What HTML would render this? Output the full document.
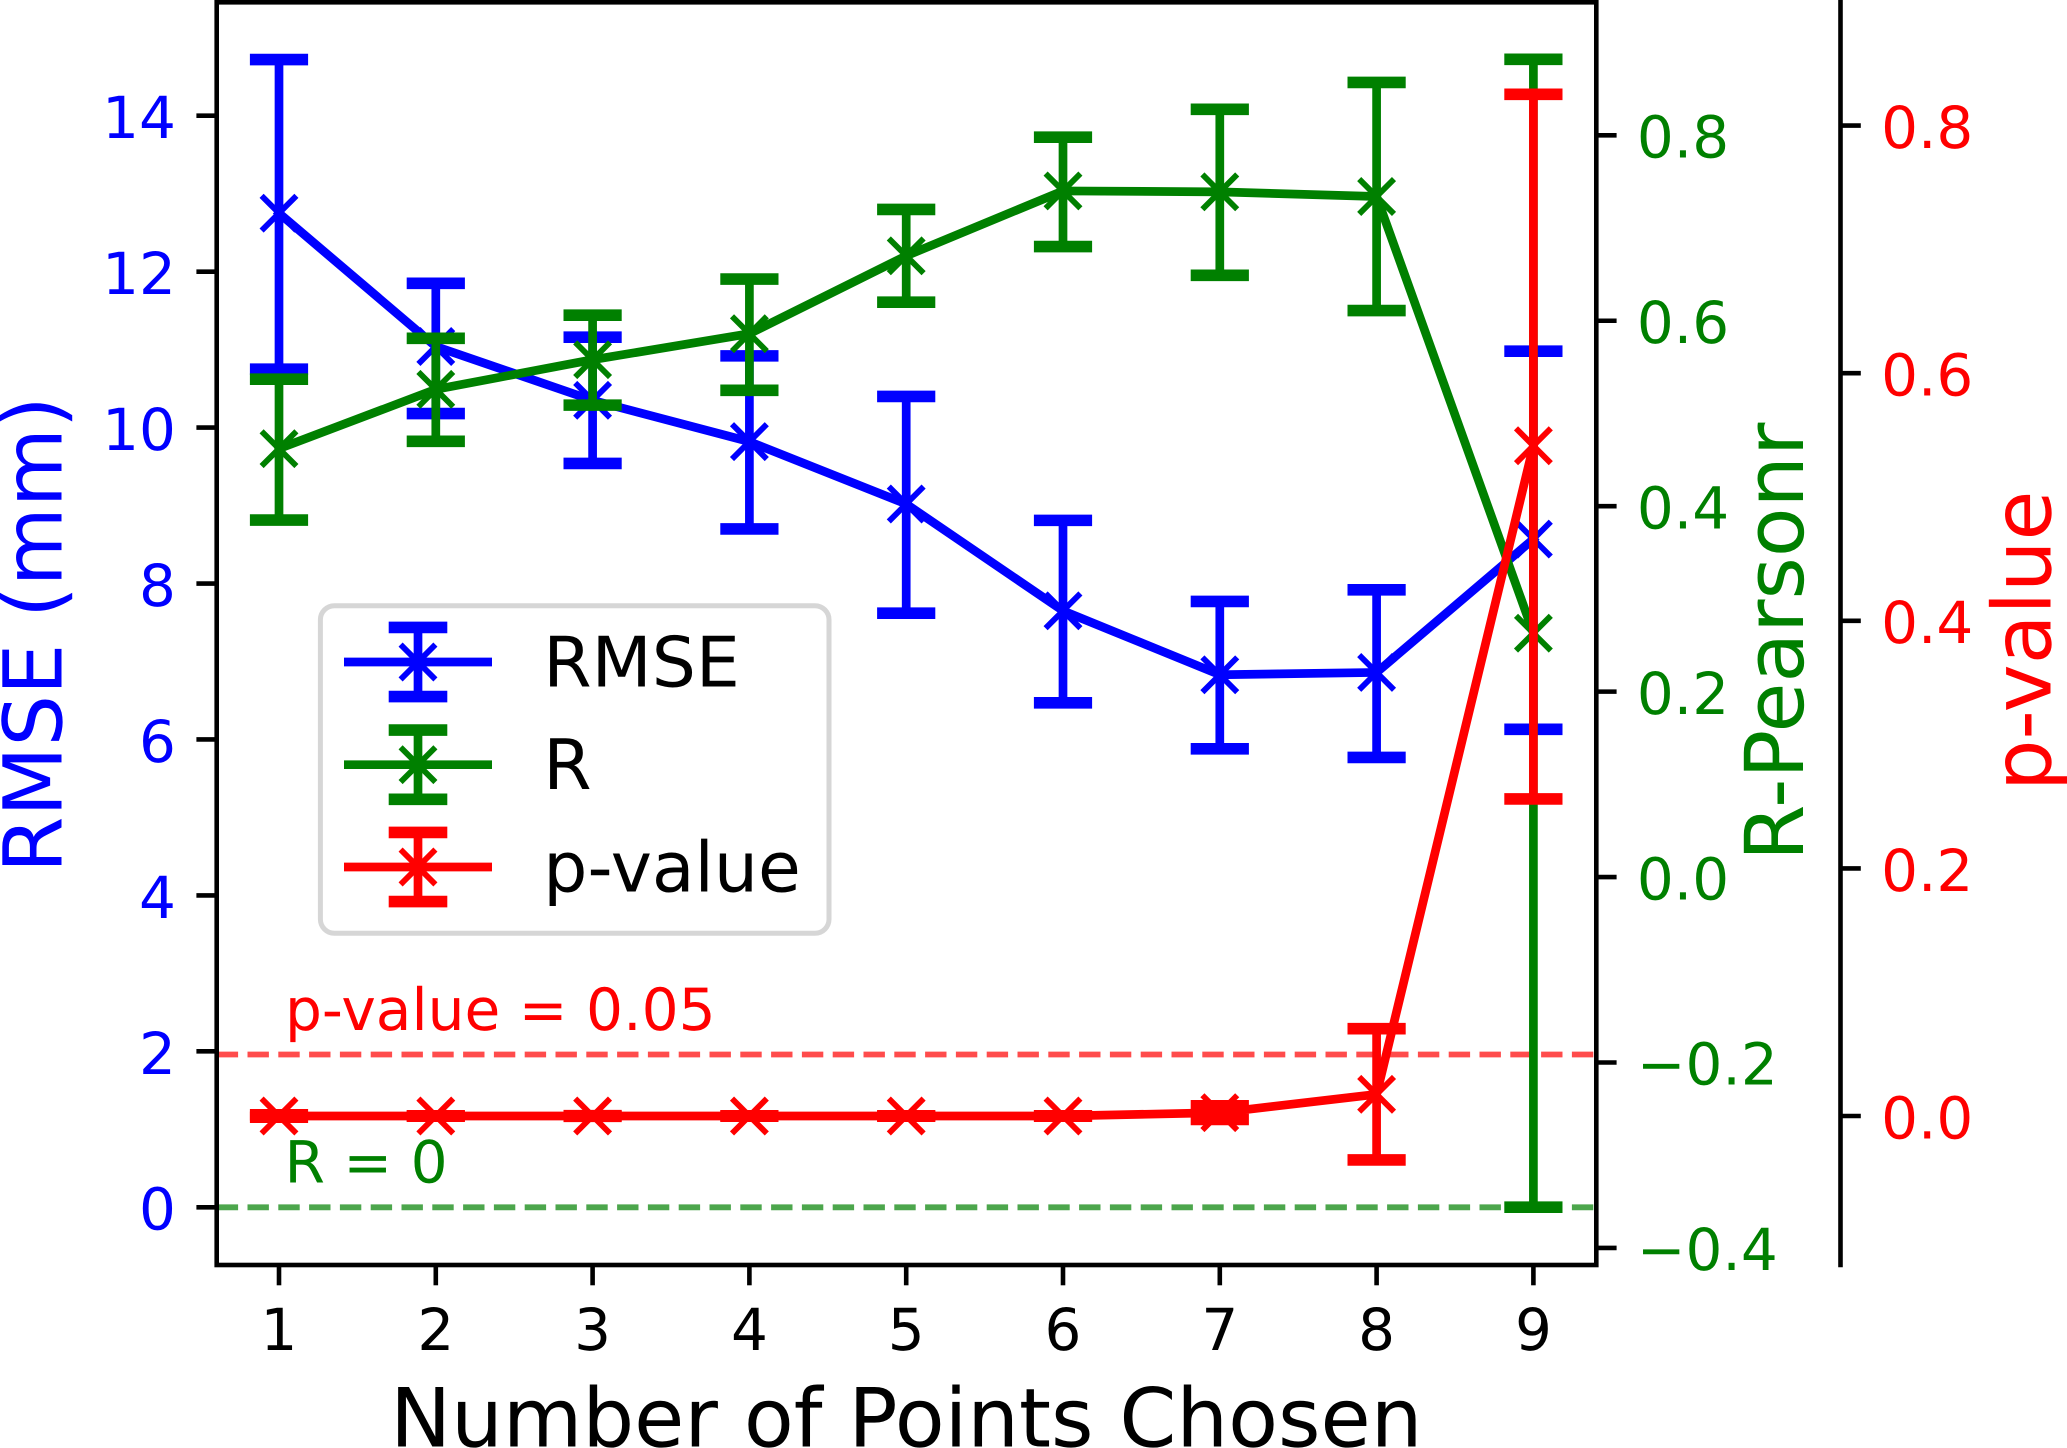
<!DOCTYPE html>
<html lang="en">
<head>
<meta charset="utf-8">
<title>RMSE, R and p-value vs Number of Points Chosen</title>
<style>
  html, body { margin: 0; padding: 0; background: #ffffff; }
  svg { display: block; }
  text { font-family: "DejaVu Sans", "Liberation Sans", sans-serif; text-rendering: geometricPrecision; }
</style>
</head>
<body>
<svg id="chart" xmlns="http://www.w3.org/2000/svg" width="2067" height="1448" viewBox="0 0 2067 1448">
  <rect x="0" y="0" width="2067" height="1448" fill="#ffffff"/>
  <g id="reference-layer"></g>
  <g id="series-layer"></g>
  <g id="axes-layer"></g>

  <text x="285" y="1030" font-size="58.2" fill="#ff0000">p-value = 0.05</text>
  <text x="284.5" y="1182.7" font-size="58.2" fill="#008000">R = 0</text>

  <text x="906.3" y="1446.5" font-size="81.6" fill="#000000" text-anchor="middle">Number of Points Chosen</text>
  <text transform="translate(61.7 873) rotate(-90)" font-size="81.2" fill="#0000ff">RMSE (mm)</text>
  <text transform="translate(1803 861) rotate(-90)" font-size="81.2" fill="#008000">R-Pearsonr</text>
  <text transform="translate(2050.5 791) rotate(-90)" font-size="81.2" fill="#ff0000">p-value</text>

  <g>
    <rect x="320.4" y="605.7" width="508.6" height="327.6" rx="14" ry="14" fill="#ffffff" stroke="#d6d6d6" stroke-width="5"/>
    <g stroke="#0000ff" fill="none">
      <path d="M344 662H492" stroke-width="8.7"/>
      <path d="M400.6 644.6L435.4 679.4M400.6 679.4L435.4 644.6" stroke-width="5.8"/>
      <path d="M418 627.4V696.6" stroke-width="8.7"/>
      <path d="M388.7 627.4H447.3M388.7 696.6H447.3" stroke-width="11.6"/>
      <text x="543.3" y="686.7" font-size="69.6" fill="#000000" stroke="none">RMSE</text>
    </g>
    <g stroke="#008000" fill="none">
      <path d="M344 764.7H492" stroke-width="8.7"/>
      <path d="M400.6 747.3L435.4 782.1M400.6 782.1L435.4 747.3" stroke-width="5.8"/>
      <path d="M418 730.1V799.3" stroke-width="8.7"/>
      <path d="M388.7 730.1H447.3M388.7 799.3H447.3" stroke-width="11.6"/>
      <text x="543.3" y="789" font-size="69.6" fill="#000000" stroke="none">R</text>
    </g>
    <g stroke="#ff0000" fill="none">
      <path d="M344 867H492" stroke-width="8.7"/>
      <path d="M400.6 849.6L435.4 884.4M400.6 884.4L435.4 849.6" stroke-width="5.8"/>
      <path d="M418 832.4V901.6" stroke-width="8.7"/>
      <path d="M388.7 832.4H447.3M388.7 901.6H447.3" stroke-width="11.6"/>
      <text x="543.3" y="891.7" font-size="69.6" fill="#000000" stroke="none">p-value</text>
    </g>
  </g>
</svg>

<script>
// ---- chart data ----
const pointsChosen = [1, 2, 3, 4, 5, 6, 7, 8, 9];

const rmseValues = [12.75, 11.04, 10.35, 9.82, 9.02, 7.65, 6.83, 6.86, 8.57];
const rmseLower  = [10.75, 10.18, 9.54, 8.70, 7.62, 6.47, 5.88, 5.77, 6.13];
const rmseUpper  = [14.72, 11.85, 11.16, 10.92, 10.40, 8.81, 7.77, 7.92, 10.98];

const rValues = [0.462, 0.526, 0.558, 0.586, 0.670, 0.740, 0.739, 0.734, 0.263];
const rLower  = [0.385, 0.470, 0.509, 0.525, 0.620, 0.680, 0.649, 0.611, -0.356];
const rUpper  = [0.537, 0.581, 0.606, 0.645, 0.720, 0.798, 0.828, 0.857, 0.882];

const pValues = [0.0000, 0.0000, 0.0000, 0.0000, 0.0000, 0.0000, 0.0027, 0.0175, 0.5414];
const pLower  = [-0.0010, -0.0002, -0.0003, -0.0002, -0.0002, -0.0002, -0.0028, -0.0355, 0.2561];
const pUpper  = [0.0010, 0.0002, 0.0003, 0.0002, 0.0002, 0.0002, 0.0082, 0.0705, 0.8253];

// reference lines are drawn on the RMSE axis
const pThresholdOnRmseAxis = 1.96;
const rZeroOnRmseAxis = 0;

const xTickLabels = ['1', '2', '3', '4', '5', '6', '7', '8', '9'];
const rmseTicks = [0, 2, 4, 6, 8, 10, 12, 14];
const rmseTickLabels = ['0', '2', '4', '6', '8', '10', '12', '14'];
const rTicks = [-0.4, -0.2, 0, 0.2, 0.4, 0.6, 0.8];
const rTickLabels = ['\u22120.4', '\u22120.2', '0.0', '0.2', '0.4', '0.6', '0.8'];
const pTicks = [0, 0.2, 0.4, 0.6, 0.8];
const pTickLabels = ['0.0', '0.2', '0.4', '0.6', '0.8'];

// ---- axis functions ----
function xScale(n) { return 279 + (n - 1) * 156.8; }
function yRmse(v) { return 1207.3 - 77.97 * v; }
function yR(v) { return 135.3 + (0.8 - v) * 927.2; }
function yP(v) { return 1116 - 1238 * v; }

// ---- geometry constants ----
const NS = 'http://www.w3.org/2000/svg';
const axLeft = 216.7, axRight = 1596.3, axTop = 2.3, axBottom = 1265, thirdSpineX = 1840.5;
const spineW = 4.6, tickLen = 20.3;

function make(parent, tag, attrs) {
  const el = document.createElementNS(NS, tag);
  for (const k in attrs) el.setAttribute(k, attrs[k]);
  parent.appendChild(el);
  return el;
}

function drawSeries(parent, key, color, values, lower, upper, yFn) {
  const group = make(parent, 'g', {});
  
  

  const pts = pointsChosen.map(function (n, i) {
    return xScale(n).toFixed(2) + ',' + yFn(values[i]).toFixed(2);
  }).join(' ');
  const line = make(group, 'polyline', {
    points: pts, fill: 'none', stroke: color, 'stroke-width': 8.7,
    'stroke-linejoin': 'round', 'stroke-linecap': 'square'
  });
  
  

  pointsChosen.forEach(function (n, i) {
    const x = xScale(n), y = yFn(values[i]), r = 17.4;
    const marker = make(group, 'path', {
      d: 'M' + (x - r) + ' ' + (y - r) + 'L' + (x + r) + ' ' + (y + r) +
         'M' + (x - r) + ' ' + (y + r) + 'L' + (x + r) + ' ' + (y - r),
      fill: 'none', stroke: color, 'stroke-width': 5.8
    });
    
    
  });

  pointsChosen.forEach(function (n, i) {
    const x = xScale(n), yLow = yFn(lower[i]), yHigh = yFn(upper[i]);
    const bar = make(group, 'line', {
      x1: x, x2: x, y1: yLow, y2: yHigh, stroke: color, 'stroke-width': 8.7
    });
    
    

    const capLow = make(group, 'line', {
      x1: x - 29.1, x2: x + 29.1, y1: yLow, y2: yLow, stroke: color, 'stroke-width': 11.6
    });
    
    

    const capHigh = make(group, 'line', {
      x1: x - 29.1, x2: x + 29.1, y1: yHigh, y2: yHigh, stroke: color, 'stroke-width': 11.6
    });
    
    
  });
}

function drawRefLine(parent, name, color, value) {
  const y = yRmse(value);
  const ref = make(parent, 'line', {
    x1: axLeft, x2: axRight - 2.3, y1: y, y2: y, stroke: color, 'stroke-width': 5.8,
    'stroke-opacity': 0.7, 'stroke-dasharray': '21.4 9.4'
  });
  
  
}

function drawYAxis(parent, key, color, ticks, labels, yFn, spineX, side, baselineShift) {
  ticks.forEach(function (t, i) {
    const y = yFn(t);
    const x2 = side === 'left' ? spineX - tickLen : spineX + tickLen;
    const tick = make(parent, 'line', {
      x1: spineX, x2: x2, y1: y, y2: y, stroke: '#000000', 'stroke-width': spineW
    });
    
    

    const label = make(parent, 'text', {
      x: side === 'left' ? spineX - tickLen - 20.5 : spineX + tickLen + 20.3,
      y: y + baselineShift,
      'font-size': 58,
      fill: color,
      'text-anchor': side === 'left' ? 'end' : 'start'
    });
    
    
    label.textContent = labels[i];
  });
}

function drawAxes(parent) {
  const frame = make(parent, 'rect', {
    x: axLeft, y: axTop, width: axRight - axLeft, height: axBottom - axTop,
    fill: 'none', stroke: '#000000', 'stroke-width': spineW
  });
  
  

  const third = make(parent, 'line', {
    x1: thirdSpineX, x2: thirdSpineX, y1: 0, y2: axBottom + 2.3, stroke: '#000000', 'stroke-width': spineW
  });
  
  

  pointsChosen.forEach(function (n, i) {
    const x = xScale(n);
    const tick = make(parent, 'line', {
      x1: x, x2: x, y1: axBottom, y2: axBottom + tickLen, stroke: '#000000', 'stroke-width': spineW
    });
    
    

    const label = make(parent, 'text', {
      x: x, y: 1350, 'font-size': 58, fill: '#000000', 'text-anchor': 'middle'
    });
    
    
    label.textContent = xTickLabels[i];
  });

  drawYAxis(parent, 'rmse', '#0000ff', rmseTicks, rmseTickLabels, yRmse, axLeft, 'left', 22.4);
  drawYAxis(parent, 'r', '#008000', rTicks, rTickLabels, yR, axRight, 'right', 22.2);
  drawYAxis(parent, 'p-value', '#ff0000', pTicks, pTickLabels, yP, thirdSpineX, 'right', 22.4);
}

const refLayer = document.getElementById('reference-layer');
drawRefLine(refLayer, 'p-value-threshold-line', '#ff0000', pThresholdOnRmseAxis);
drawRefLine(refLayer, 'r-zero-line', '#008000', rZeroOnRmseAxis);

const seriesLayer = document.getElementById('series-layer');
drawSeries(seriesLayer, 'rmse', '#0000ff', rmseValues, rmseLower, rmseUpper, yRmse);
drawSeries(seriesLayer, 'r', '#008000', rValues, rLower, rUpper, yR);
drawSeries(seriesLayer, 'p-value', '#ff0000', pValues, pLower, pUpper, yP);

drawAxes(document.getElementById('axes-layer'));
</script>
</body>
</html>
